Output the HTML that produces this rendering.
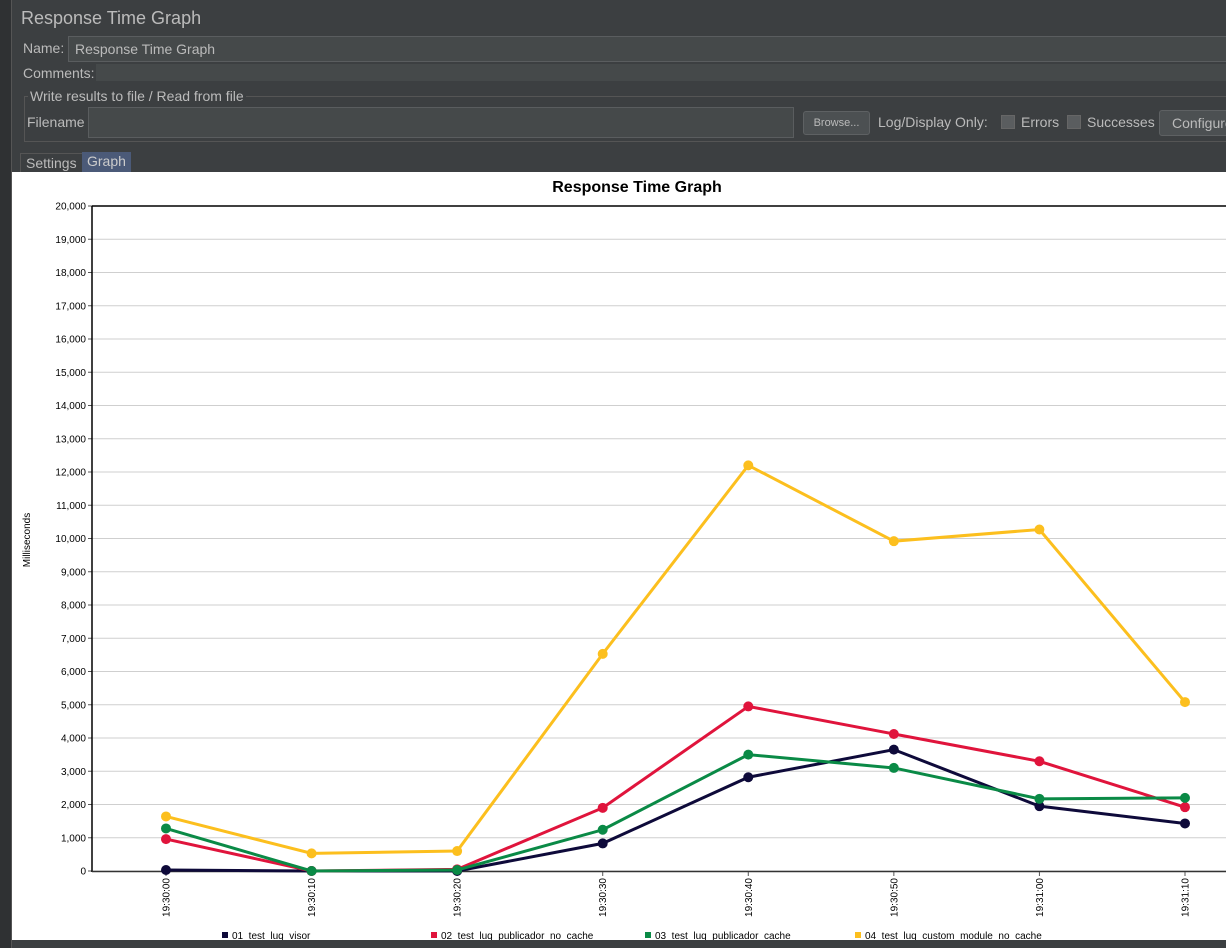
<!DOCTYPE html>
<html><head><meta charset="utf-8"><style>
body{margin:0;width:1226px;height:948px;background:#3c3f41;overflow:hidden;font-family:"Liberation Sans",sans-serif;position:relative}
.abs{position:absolute}
.lbl{color:#bbbbbb;font-size:14px}
.field{background:#45494a;border:1px solid #5a5d5f}
</style></head><body>
<div class="abs" style="left:0;top:0;width:11px;height:948px;background:#2f3133;border-right:1px solid #555"></div>
<div class="abs" style="left:21px;top:8px;font-size:18px;color:#bbbbbb">Response Time Graph</div>
<div class="abs lbl" style="left:23px;top:40px">Name:</div>
<div class="abs field lbl" style="left:68px;top:36px;width:1170px;height:24px;line-height:24px;padding-left:6px">Response Time Graph</div>
<div class="abs lbl" style="left:23px;top:65px">Comments:</div>
<div class="abs field" style="left:96px;top:64px;width:1140px;height:17px;border:none"></div>
<div class="abs" style="left:24px;top:96px;width:1210px;height:44px;border:1px solid #555"></div>
<div class="abs lbl" style="left:28px;top:88px;background:#3c3f41;padding:0 2px">Write results to file / Read from file</div>
<div class="abs lbl" style="left:27px;top:114px">Filename</div>
<div class="abs field" style="left:88px;top:107px;width:704px;height:29px"></div>
<div class="abs" style="left:803px;top:111px;width:65px;height:22px;background:#4c5052;border:1px solid #5e6163;border-radius:3px;color:#bbb;font-size:11px;text-align:center;line-height:22px">Browse...</div>
<div class="abs lbl" style="left:878px;top:114px">Log/Display Only:</div>
<div class="abs" style="left:1001px;top:115px;width:12px;height:12px;background:#5a5d5f;border:1px solid #666"></div>
<div class="abs lbl" style="left:1021px;top:114px">Errors</div>
<div class="abs" style="left:1067px;top:115px;width:12px;height:12px;background:#5a5d5f;border:1px solid #666"></div>
<div class="abs lbl" style="left:1087px;top:114px">Successes</div>
<div class="abs lbl" style="left:1159px;top:110px;width:80px;height:24px;line-height:24px;padding-left:12px;background:#4c5052;border:1px solid #5e6163;border-radius:3px">Configure</div>
<div class="abs lbl" style="left:20px;top:153px;width:58px;height:19px;line-height:19px;padding-left:5px;border:1px solid #555;border-bottom:none">Settings</div>
<div class="abs lbl" style="left:82px;top:152px;width:44px;height:20px;line-height:18px;padding-left:5px;background:#4b5a78;color:#ccc">Graph</div>
<div class="abs" style="left:12px;top:172px;width:1214px;height:768px;background:#fff"></div>
<svg class="abs" style="left:0;top:0" width="1226" height="948" id="chart"></svg>
<script>
const categories=["19:30:00","19:30:10","19:30:20","19:30:30","19:30:40","19:30:50","19:31:00","19:31:10"];
const seriesNames=["01_test_luq_visor","02_test_luq_publicador_no_cache","03_test_luq_publicador_cache","04_test_luq_custom_module_no_cache"];
const visor=[30,0,0,830,2820,3650,1950,1430];
const pubNoCache=[960,0,50,1900,4950,4120,3300,1920];
const pubCache=[1280,0,30,1240,3500,3100,2170,2200];
const customNoCache=[1640,530,600,6530,12200,9920,10270,5080];
const yTicks=[0,1000,2000,3000,4000,5000,6000,7000,8000,9000,10000,11000,12000,13000,14000,15000,16000,17000,18000,19000,20000];
const colors=["#0e0a3a","#e0143c","#0a8a46","#fcbf1e"];
const NS="http://www.w3.org/2000/svg";
const svg=document.getElementById('chart');
const x=i=>166+i*145.57;
const y=v=>871-v*665/20000;
function mk(t,a){const e=document.createElementNS(NS,t);for(const k in a)e.setAttribute(k,a[k]);svg.appendChild(e);return e;}
let t=mk('text',{x:637,y:192,'text-anchor':'middle','font-size':16,'font-weight':'bold','font-family':'Liberation Sans, sans-serif',fill:'#000'});
t.textContent='Response Time Graph';


t=mk('text',{x:0,y:0,transform:'translate(30,540) rotate(-90)','text-anchor':'middle','font-size':10,'font-family':'Liberation Sans, sans-serif'});
t.textContent='Milliseconds';


yTicks.forEach(v=>{
 const g=mk('line',{x1:92,x2:1226,y1:y(v),y2:y(v),stroke:'#cfcfcf','stroke-width':1});
 
 
 mk('line',{x1:88,x2:92,y1:y(v),y2:y(v),stroke:'#555'});
 const l=mk('text',{x:86,y:y(v)+3.5,'text-anchor':'end','font-size':10,'font-family':'Liberation Sans, sans-serif'});
 l.textContent=v.toLocaleString('en-US');
 
 
});
mk('line',{x1:92,x2:1226,y1:206,y2:206,stroke:'#000','stroke-width':1.5});
mk('line',{x1:92,x2:92,y1:206,y2:872,stroke:'#000','stroke-width':1.5});
mk('line',{x1:92,x2:1226,y1:871.5,y2:871.5,stroke:'#333','stroke-width':1.5});
categories.forEach((c,i)=>{
 mk('line',{x1:x(i),x2:x(i),y1:872,y2:876,stroke:'#555'});
 const l=mk('text',{x:0,y:0,transform:`translate(${x(i)+3.5},878) rotate(-90)`,'text-anchor':'end','font-size':10,'font-family':'Liberation Sans, sans-serif'});
 l.textContent=c;
 
 
});
[visor,pubNoCache,pubCache,customNoCache].forEach((s,k)=>{
 const p=mk('polyline',{points:s.map((v,i)=>x(i)+','+y(v)).join(' '),fill:'none',stroke:colors[k],'stroke-width':3});
 
 
 s.forEach((v,i)=>{
  const c=mk('circle',{cx:x(i),cy:y(v),r:5,fill:colors[k]});
  
  
 });
});
const lx=[222,431,645,855];
seriesNames.forEach((n,k)=>{
 const r=mk('rect',{x:lx[k],y:932,width:6,height:6,fill:colors[k]});
 
 
 const l=mk('text',{x:lx[k]+10,y:939,'font-size':10,'font-family':'Liberation Sans, sans-serif'});
 l.textContent=n;
 
 
});
</script>
<div class="abs" style="left:12px;top:940px;width:1214px;height:8px;background:#3c3f41"></div>
</body></html>
